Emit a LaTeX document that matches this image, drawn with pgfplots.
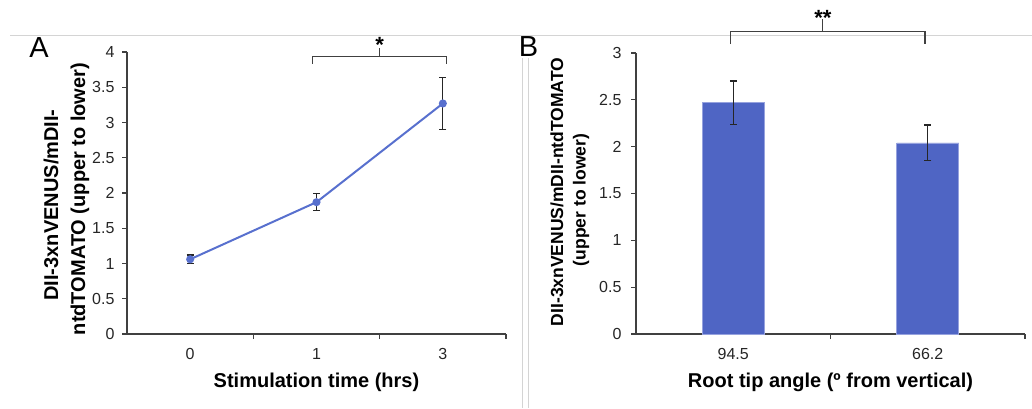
\documentclass[border=0pt]{standalone}
\usepackage{fontspec}
\setmainfont{Liberation Sans}
\usepackage{pgfplots}
\pgfplotsset{compat=1.18}
\definecolor{lineblue}{RGB}{88,112,206}
\definecolor{barblue}{RGB}{79,101,196}
\definecolor{baredge}{RGB}{150,162,222}
\definecolor{axgray}{RGB}{64,64,64}
\definecolor{framegray}{RGB}{212,212,212}
\begin{document}
\begin{tikzpicture}[x=1pt,y=1pt]
\path[use as bounding box] (0,0) rectangle (1032,408);
\draw[framegray, line width=1pt] (10,372) -- (1032,372);
\draw[framegray, line width=1pt] (522,350) -- (522,0);
\draw[framegray, line width=1pt] (528,350) -- (528,0);
\pgfplotsset{
  common/.style={
    scale only axis, axis x line=bottom, axis y line=left,
    axis line style={-, axgray, line width=1.1pt},
    tick style={axgray, line width=1.1pt},
    tick align=outside, major tick length=5pt,
    ymin=0,
    xticklabel style={font=\fontsize{16}{18}\selectfont, text=black!85, yshift=-11pt},
    yticklabel style={font=\fontsize{16}{18}\selectfont, text=black!85, xshift=-4pt},
    /pgf/number format/assume math mode=true,
    xticklabels={},
    extra x tick style={major tick length=0pt},
    clip=false,
  }
}
% Panel A
\begin{axis}[common, at={(127pt,74pt)}, anchor=south west, width=379pt, height=282pt,
  xmin=-0.5, xmax=2.5, ymax=4,
  ytick={0,0.5,1,1.5,2,2.5,3,3.5,4},
  xtick={0.5,1.5,2.5},
  extra x ticks={0,1,2}, extra x tick labels={0,1,3}]
\addplot[lineblue, line width=2pt, mark=*, mark size=3pt,
  error bars/.cd, y dir=both, y explicit,
  error bar style={black!85, line width=1.2pt},
  error mark options={black!85, line width=1.2pt, mark size=3.5pt, rotate=90}]
  coordinates {(0,1.06) +- (0,0.06) (1,1.87) +- (0,0.12) (2,3.27) +- (0,0.37)};
\draw[axgray, line width=1.1pt] (axis cs:0.97,3.83) -- (axis cs:0.97,3.93) -- (axis cs:2.03,3.93) -- (axis cs:2.03,3.83);
\draw[axgray, line width=1.1pt] (axis cs:1.5,3.93) -- (axis cs:1.5,4.06);
\node[anchor=base, inner sep=0, font=\fontsize{22}{24}\selectfont\bfseries] at (axis cs:1.5,3.99) {*};
\node[font=\fontsize{20}{24}\selectfont\bfseries] at (axis description cs:0.5,-0.17) {Stimulation time (hrs)};
\end{axis}
% Panel B
\begin{axis}[common, at={(636pt,74pt)}, anchor=south west, width=389pt, height=281pt,
  xmin=-0.5, xmax=1.5, ymax=3,
  ytick={0,0.5,1,1.5,2,2.5,3},
  xtick={0.5,1.5},
  yticklabel style={xshift=-2pt},
  extra x ticks={0,1}, extra x tick labels={94.5,66.2}]
\addplot[ybar, bar width=62pt, fill=barblue, draw=baredge, line width=0.8pt,
  error bars/.cd, y dir=both, y explicit,
  error bar style={black!85, line width=1.3pt},
  error mark options={black!85, line width=1.3pt, mark size=3.5pt, rotate=90}]
  coordinates {(0,2.47) +- (0,0.23) (1,2.04) +- (0,0.19)};
\draw[axgray, line width=1.1pt] (axis cs:-0.012,3.095) -- (axis cs:-0.012,3.23) -- (axis cs:0.986,3.23) -- (axis cs:0.986,3.095);
\draw[axgray, line width=1.1pt] (axis cs:0.461,3.23) -- (axis cs:0.461,3.36);
\node[anchor=base, inner sep=0, font=\fontsize{22}{24}\selectfont\bfseries] at (axis cs:0.461,3.29) {**};
\node[font=\fontsize{20}{24}\selectfont\bfseries] at (axis description cs:0.5,-0.171) {Root tip angle (º from vertical)};
\end{axis}
% y labels
\node[rotate=90, inner sep=0, font=\fontsize{20}{24}\selectfont\bfseries] at (51,203) {DII-3xnVENUS/mDII-};
\node[rotate=90, inner sep=0, font=\fontsize{20}{24}\selectfont\bfseries] at (80,209) {ntdTOMATO (upper to lower)};
\node[rotate=90, inner sep=0, font=\fontsize{17.5}{21}\selectfont\bfseries] at (557,216) {DII-3xnVENUS/mDII-ntdTOMATO};
\node[rotate=90, inner sep=0, font=\fontsize{17.5}{21}\selectfont\bfseries] at (581,208) {(upper to lower)};
% panel letters
\node[inner sep=0, font=\fontsize{29}{30}\selectfont] at (39,360.5) {A};
\node[inner sep=0, font=\fontsize{29}{30}\selectfont] at (528.5,361) {B};
\end{tikzpicture}
\end{document}
